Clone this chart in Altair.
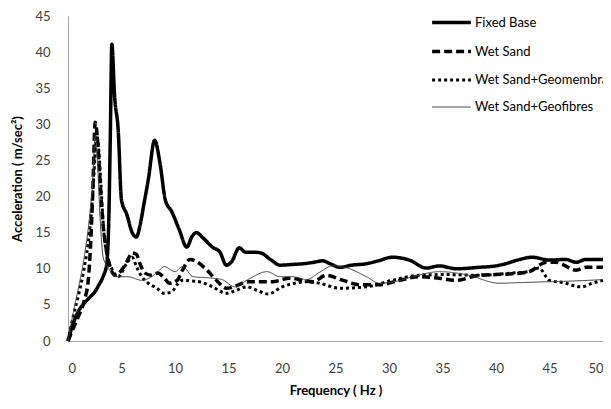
import altair as alt
import pandas as pd

series_names = ["Fixed Base", "Wet Sand", "Wet Sand+Geomembrane", "Wet Sand+Geofibres"]

f_fixed = [0, 0.5, 1, 1.5, 2, 2.5, 2.9, 3.3, 3.6, 3.8, 3.95, 4.1, 4.35, 4.7, 5.0, 5.5, 6.0, 6.4, 6.7, 7.1,
           7.5, 8.1, 8.6, 9.1, 9.7, 10.4, 11.1, 11.6, 12.0, 12.6, 13.5, 14.2, 14.8, 15.3, 16.0, 16.6,
           17.3, 18.0, 19.0, 19.8, 21.0, 22.0, 23.0, 23.8, 24.5, 25.4, 26.5, 27.9, 29.0, 30.3, 31.9,
           33.5, 34.7, 36.3, 38.4, 40.0, 40.9, 42.0, 43.4, 45.0, 46.5, 47.5, 48.4, 50]
a_fixed = [0, 2.5, 4.2, 5.2, 6.0, 6.8, 7.8, 9.0, 10.5, 16, 28, 41.1, 34, 29, 19.5, 17.5, 15, 14.4, 15.8, 19,
           22.3, 27.8, 24.6, 19.5, 17.9, 15.4, 13, 14.5, 15, 14.3, 13, 12.3, 10.5, 11, 12.9, 12.3,
           12.3, 12.2, 11.2, 10.5, 10.6, 10.7, 10.9, 11.1, 10.7, 10.2, 10.5, 10.7, 11.1, 11.6, 11.2,
           10.1, 10.4, 10.0, 10.2, 10.4, 10.7, 11.2, 11.6, 11.2, 11.3, 10.9, 11.3, 11.3]

f_wet = [0, 0.5, 1, 1.5, 1.9, 2.1, 2.3, 2.55, 2.75, 3.0, 3.3, 3.6, 4.0, 4.4, 5.0, 5.5, 6.0, 6.4, 6.7,
         7.2, 7.8, 8.4, 9.0, 9.5, 10.2, 10.7, 11.4, 12.0, 13.0, 14.0, 14.8, 16.0, 16.7, 18.0, 19.1,
         20.7, 22.0, 22.9, 24.1, 25.7, 27.2, 29.1, 31.0, 32.8, 34.7, 36.3, 38.4, 40.0, 41.5, 43.1,
         44.7, 45.6, 47.5, 48.4, 50]
a_wet = [0, 1.8, 3.5, 5.5, 8.5, 13, 20, 30.3, 28, 22, 15.8, 12.5, 10, 9.1, 9.8, 11, 12.2, 12, 10.8,
         9.4, 9.1, 9.4, 8.7, 8.0, 8.4, 9.8, 11.3, 11, 9.8, 8.2, 7.3, 7.8, 8.2, 8.2, 8.2,
         8.7, 8.4, 8.2, 9.1, 8.4, 7.8, 7.8, 8.4, 8.9, 8.7, 8.4, 9.1, 9.2, 9.3, 9.6,
         10.9, 10.9, 9.8, 10.2, 10.2]

f_geomem = [0, 0.5, 1, 1.5, 2, 2.3, 2.5, 2.7, 2.9, 3.1, 3.35, 3.6, 4.1, 4.7, 5.5, 6.0, 6.4, 6.9, 7.5,
            8.3, 9.0, 9.7, 10.2, 10.7, 11.6, 12.3, 13.5, 14.8, 15.7, 16.7, 17.7, 18.7, 20.0, 21.2,
            22.3, 23.5, 25.4, 27.9, 30.3, 32.8, 35.3, 38.4, 41.5, 43.0, 44.0, 45.0, 46.2, 48.0, 49.0, 50]
a_geomem = [0, 3.5, 6.5, 10, 15, 20, 25, 28.5, 26, 21, 15, 12.2, 10, 8.9, 10.8, 11.6, 10.3, 8.9, 8.0,
            7.3, 6.6, 6.8, 7.8, 8.4, 8.3, 8.2, 7.5, 6.6, 7.0, 7.5, 7.0, 6.5, 7.5, 8.0,
            8.2, 8.0, 7.3, 7.5, 8.4, 9.1, 9.2, 9.1, 9.4, 9.6, 10.1, 8.4, 8.1, 7.5, 8.0, 8.4]

f_geofib = [0, 0.5, 1, 1.5, 2, 2.3, 2.55, 2.75, 3.0, 3.3, 3.7, 4.2, 4.6, 5.6, 6.9, 7.8, 8.4, 9.0, 10.0,
            10.7, 11.7, 13.5, 14.4, 15.6, 16.7, 18.6, 19.8, 21.0, 22.3, 23.5, 24.7, 25.9, 27.9, 29.1,
            30.5, 32.2, 34.7, 37.2, 40.3, 42.5, 44.7, 47.0, 50]
a_geofib = [0, 4, 7.5, 11.5, 17, 22, 28.5, 25, 17, 11.5, 10.3, 9.2, 8.9, 8.9, 8.4, 8.9, 9.6, 10.3, 9.6,
            10.3, 8.9, 8.7, 8.5, 7.5, 8.4, 9.6, 8.9, 8.9, 8.5, 9.5, 10.4, 10.2, 8.9, 8.0,
            8.2, 8.9, 9.6, 9.2, 8.0, 8.1, 8.2, 8.3, 8.5]

x_ticks = [0, 5, 10, 15, 20, 25, 30, 35, 40, 45, 50]
y_ticks = [0, 5, 10, 15, 20, 25, 30, 35, 40, 45]

rows = []
for name, fs, vals in zip(series_names, [f_fixed, f_wet, f_geomem, f_geofib],
                          [a_fixed, a_wet, a_geomem, a_geofib]):
    for i, (f, a) in enumerate(zip(fs, vals)):
        rows.append({"series": name, "freq": f, "acc": a, "order": i})
df = pd.DataFrame(rows)

FONT = "Lato"

chart = alt.Chart(df).mark_line(interpolate="monotone").encode(
    x=alt.X("freq:Q", title="Frequency  ( Hz )",
            scale=alt.Scale(domain=[0, 50], nice=False),
            axis=alt.Axis(values=x_ticks, grid=False, ticks=False, domainColor="#a6a6a6",
                          labelFontSize=13, labelColor="#404040", labelPadding=21,
                          titleFontSize=13, titleFontWeight="bold", titleColor="#000000",
                          titlePadding=9, labelFont=FONT, titleFont=FONT)),
    y=alt.Y("acc:Q", title="Acceleration ( m/sec²)",
            scale=alt.Scale(domain=[0, 45], nice=False),
            axis=alt.Axis(values=y_ticks, grid=False, ticks=False, domainColor="#a6a6a6",
                          labelFontSize=13, labelColor="#404040", labelPadding=18,
                          titleFontSize=13, titleFontWeight="bold", titleColor="#000000",
                          titlePadding=10, labelFont=FONT, titleFont=FONT)),
    color=alt.Color("series:N", title=None,
                    scale=alt.Scale(domain=series_names,
                                    range=["#000000", "#000000", "#000000", "#404040"]),
                    legend=alt.Legend(orient="none", legendX=362, legendY=-15,
                                      symbolType="stroke", symbolSize=1500,
                                      rowPadding=-13, labelOffset=2, padding=0,
                                      labelFontSize=13, labelFont=FONT, labelColor="#000000",
                                      labelLimit=400)),
    strokeDash=alt.StrokeDash("series:N", title=None,
                              scale=alt.Scale(domain=series_names,
                                              range=[[1, 0], [8, 4], [3, 3], [1, 0]])),
    strokeWidth=alt.StrokeWidth("series:N", title=None,
                                scale=alt.Scale(type="ordinal", domain=series_names,
                                                range=[3.5, 3.5, 3, 1])),
    order="order:Q",
).properties(
    width=535, height=325,
    autosize=alt.AutoSizeParams(type="none"),
    padding={"left": 60, "top": 8, "right": 0, "bottom": 60},
).configure_view(stroke=None)

chart.save("out.html", embed_options={"renderer": "svg", "actions": False})
